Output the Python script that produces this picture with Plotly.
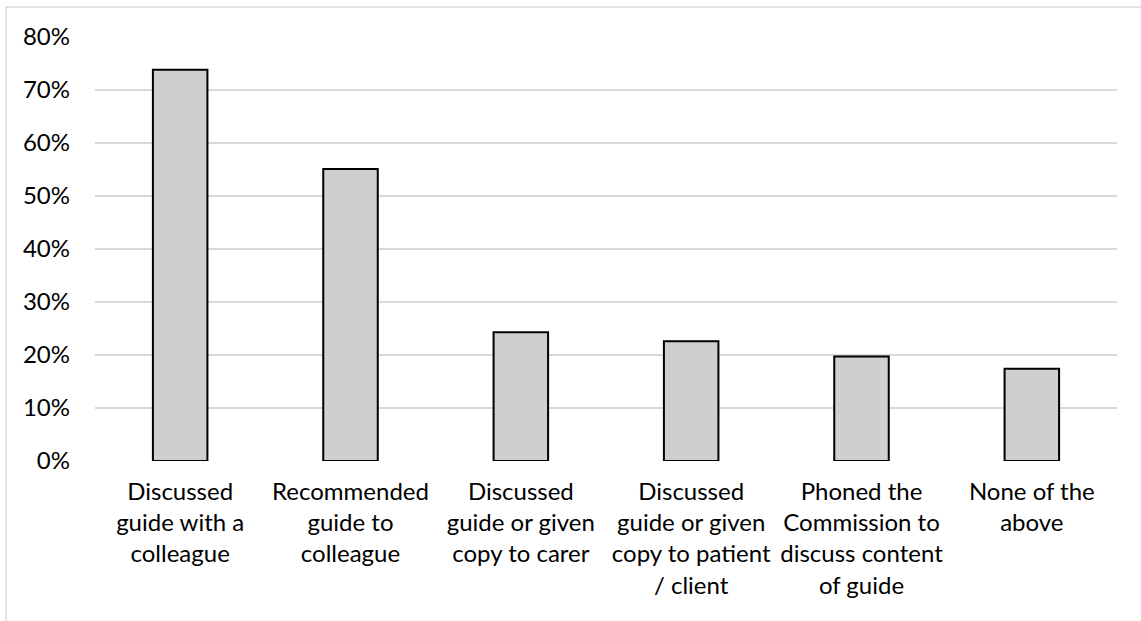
import plotly.graph_objects as go

categories = [
    "Discussed<br>guide with a<br>colleague",
    "Recommended<br>guide to<br>colleague",
    "Discussed<br>guide or given<br>copy to carer",
    "Discussed<br>guide or given<br>copy to patient<br>/ client",
    "Phoned the<br>Commission to<br>discuss content<br>of guide",
    "None of the<br>above",
]
shares = [0.738, 0.551, 0.243, 0.226, 0.197, 0.174]
y_ticks = [0, 0.1, 0.2, 0.3, 0.4, 0.5, 0.6, 0.7, 0.8]
y_tick_labels = ["0%", "10%", "20%", "30%", "40%", "50%", "60%", "70%", "80%"]

FONT = "Lato, 'Open Sans', sans-serif"

fig = go.Figure(
    go.Bar(
        x=list(range(len(categories))),
        y=shares,
        marker=dict(color="#d0cece", line=dict(color="#000000", width=2)),
        hoverinfo="skip",
    )
)

fig.update_layout(
    width=1141,
    height=621,
    margin=dict(l=95, r=24, t=37, b=160),
    paper_bgcolor="#ffffff",
    plot_bgcolor="#ffffff",
    bargap=0.68,
    showlegend=False,
    font=dict(family=FONT, size=24, color="#000000"),
    shapes=[
        dict(
            type="rect", xref="paper", yref="paper",
            x0=-0.087, x1=1.03, y0=-0.4, y1=1.0708,
            line=dict(color="#d9d9d9", width=1.5),
            fillcolor="rgba(0,0,0,0)", layer="below",
        )
    ],
)

fig.update_xaxes(
    tickmode="array",
    tickvals=list(range(len(categories))),
    ticktext=categories,
    range=[-0.5, len(categories) - 0.5],
    showgrid=False,
    zeroline=False,
    showline=False,
    ticks="",
    ticklabelstandoff=14,
    tickfont=dict(family=FONT, size=24, color="#000000"),
)

fig.update_yaxes(
    range=[0, 0.8],
    tickmode="array",
    tickvals=y_ticks,
    ticktext=y_tick_labels,
    showgrid=True,
    gridcolor="#d9d9d9",
    gridwidth=1.5,
    zeroline=False,
    showline=False,
    ticks="",
    ticklabelstandoff=24,
    tickfont=dict(family=FONT, size=24, color="#000000"),
)

fig.write_html("out.html")
